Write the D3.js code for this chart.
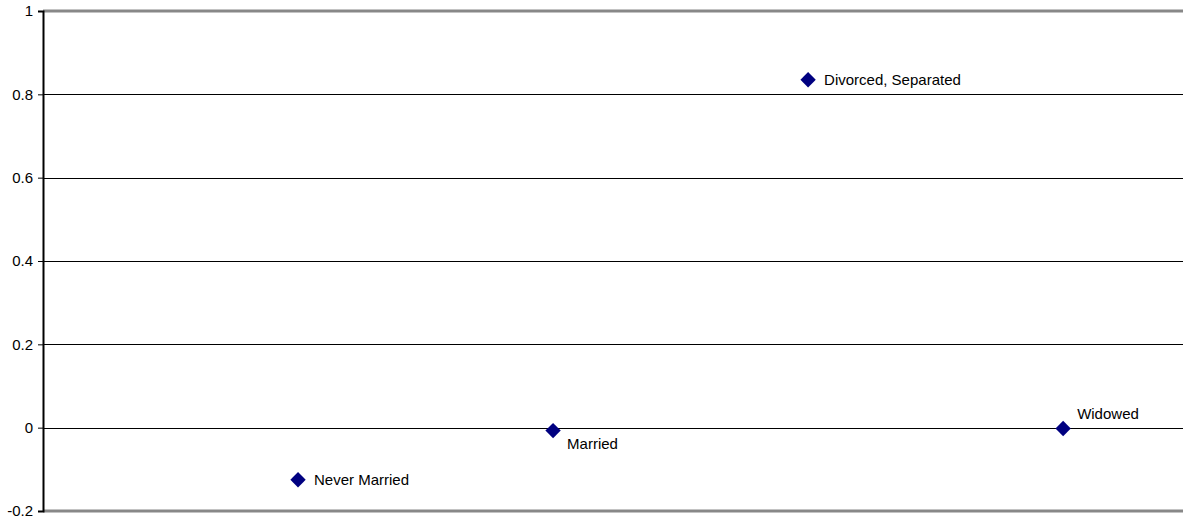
<!DOCTYPE html>
<html>
<head>
<meta charset="utf-8">
<script src="https://cdn.jsdelivr.net/npm/d3@7"></script>
<style>
  body { margin: 0; background: #fff; }
  text { font-family: "Liberation Sans", Arial, sans-serif; }
</style>
</head>
<body>
<div id="chart"></div>
<script>
const width = 1183;
const height = 522;

// data
const categories = ["Never Married", "Married", "Divorced, Separated", "Widowed"];
const positions = [1, 2, 3, 4];
const values = [-0.125, -0.007, 0.835, -0.002];
// label placement relative to the marker: "right", "below", "above"
const labelPlace = ["right", "below", "right", "above"];
const yTicks = [-0.2, 0, 0.2, 0.4, 0.6, 0.8, 1];

const margin = {top: 11, right: 0, bottom: 11, left: 43};

const x = d3.scaleLinear()
    .domain([0, 4.47])
    .range([margin.left, width - margin.right]);

const y = d3.scaleLinear()
    .domain([-0.2, 1])
    .range([height - margin.bottom, margin.top]);

const svg = d3.select("#chart")
    .append("svg")
    .attr("width", width)
    .attr("height", height);

// gridlines
svg.append("g")
    .selectAll("line")
    .data(yTicks.filter(d => d > -0.2 && d < 1))
    .join("line")
    .attr("x1", margin.left)
    .attr("x2", width)
    .attr("y1", d => Math.round(y(d)) + 0.5)
    .attr("y2", d => Math.round(y(d)) + 0.5)
    .attr("stroke", "#000")
    .attr("stroke-width", 1);

// top and bottom plot borders (grey)
svg.append("g")
    .selectAll("line")
    .data([-0.2, 1])
    .join("line")
    .attr("x1", margin.left)
    .attr("x2", width)
    .attr("y1", d => Math.round(y(d)))
    .attr("y2", d => Math.round(y(d)))
    .attr("stroke", "#888")
    .attr("stroke-width", 3);

// y axis
const yAxis = svg.append("g")
    .attr("transform", `translate(${margin.left},0)`)
    .call(d3.axisLeft(y).tickValues(yTicks).tickSize(5).tickPadding(5)
        .tickFormat(d => String(+d.toFixed(1))));
yAxis.select(".domain").attr("stroke", "#000").attr("stroke-width", 2);
yAxis.selectAll(".tick line").attr("stroke", "#000");
yAxis.selectAll(".tick text")
    .attr("font-size", 15)
    .attr("fill", "#000")
    .style("font-family", "'Liberation Sans', Arial, sans-serif");

// points
const pts = svg.append("g");
pts.selectAll("path")
    .data(values)
    .join("path")
    .attr("transform", (d, i) => `translate(${x(positions[i])},${y(d)})`)
    .attr("d", d3.symbol(d3.symbolDiamond2, 150))
    .attr("fill", "#000080");

// labels
pts.selectAll("text")
    .data(values)
    .join("text")
    .attr("x", (d, i) => x(positions[i]) + (labelPlace[i] === "right" ? 16 : 14))
    .attr("y", (d, i) => {
        const py = y(d);
        if (labelPlace[i] === "below") return py + 18;
        if (labelPlace[i] === "above") return py - 10;
        return py + 5;
    })
    .attr("font-size", 15)
    .attr("fill", "#000")
    .text((d, i) => categories[i]);
</script>
</body>
</html>
